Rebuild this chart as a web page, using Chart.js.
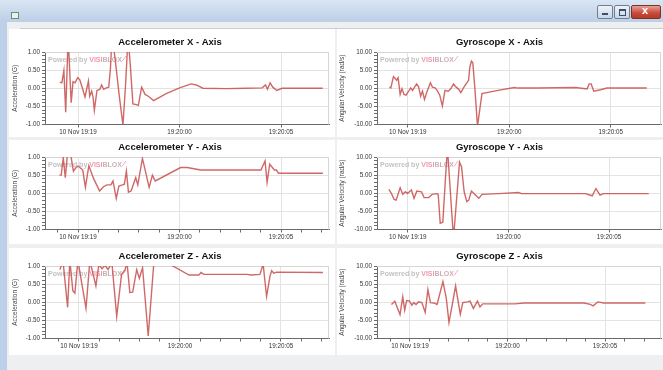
<!DOCTYPE html>
<html lang="en">
<head>
<meta charset="UTF-8">
<title>Sensor Monitor</title>
<script src="https://cdn.jsdelivr.net/npm/chart.js@4.4.0/dist/chart.umd.min.js"></script>
<style>
    html, body { margin: 0; padding: 0; }
    body {
        width: 663px; height: 370px; position: relative; overflow: hidden;
        background: #bcd1e9;
        font-family: "Liberation Sans", Arial, sans-serif;
    }
    .titlebar {
        position: absolute; left: 0; top: 0; width: 663px; height: 22px;
        background: linear-gradient(180deg, #dae6f3 0%, #c9d9ec 55%, #bccfe6 100%);
    }
    .app-icon {
        position: absolute; left: 11px; top: 12px; width: 6px; height: 5px;
        border: 1px solid #6f8a80; background: #e9f1ec;
    }
    .winbtn {
        position: absolute; top: 5px; height: 12px; border: 1px solid #6d7f96;
        border-radius: 2px; background: linear-gradient(180deg, #eef3f9, #c9d6e6);
    }
    .winbtn.min { left: 597px; width: 14px; }
    .winbtn.max { left: 614px; width: 14px; }
    .winbtn.close { left: 631px; width: 28px; border-color: #7d3128;
        background: linear-gradient(180deg, #e6a294, #c8483a 60%, #b83a2c); }
    .winbtn.min::after { content: ""; position: absolute; left: 4px; top: 7px; width: 6px; height: 2px; background: #3d4f66; }
    .winbtn.max::after { content: ""; position: absolute; left: 4px; top: 3px; width: 5px; height: 4px; border: 1px solid #3d4f66; border-top-width: 2px; }
    .winbtn.close::after { content: "x"; position: absolute; left: 10px; top: -2px; color: #fff; font: bold 11px "Liberation Sans", Arial, sans-serif; }
    .client {
        position: absolute; left: 7px; top: 22px; width: 656px; height: 348px;
        background: #eeeff1;
    }
    .topline { position: absolute; left: 20px; top: 28px; width: 643px; height: 1px; background: #c9ccd1; }
    .card { position: absolute; background: #ffffff; }
    canvas.plot { position: absolute; }
</style>
</head>
<body>

<div class="titlebar">
    <div class="app-icon"></div>
    <div class="winbtn min"></div>
    <div class="winbtn max"></div>
    <div class="winbtn close"></div>
</div>
<div class="client"></div>

<div class="card" style="left:9px; top:29px; width:326px; height:108px;"></div>
<div class="card" style="left:337px; top:29px; width:326px; height:108px;"></div>
<div class="card" style="left:9px; top:140px; width:326px; height:104px;"></div>
<div class="card" style="left:337px; top:140px; width:326px; height:104px;"></div>
<div class="card" style="left:9px; top:248px; width:326px; height:107px;"></div>
<div class="card" style="left:337px; top:248px; width:326px; height:107px;"></div>
<div class="topline"></div>

<canvas class="plot" id="accelX" width="324" height="108" style="left:11px; top:30px;"></canvas>
<canvas class="plot" id="gyroX" width="325" height="108" style="left:338px; top:30px;"></canvas>
<canvas class="plot" id="accelY" width="324" height="108" style="left:11px; top:135px;"></canvas>
<canvas class="plot" id="gyroY" width="325" height="108" style="left:338px; top:135px;"></canvas>
<canvas class="plot" id="accelZ" width="324" height="108" style="left:11px; top:244px;"></canvas>
<canvas class="plot" id="gyroZ" width="325" height="108" style="left:338px; top:244px;"></canvas>

<script>
    // time is seconds past 19:19:00 on 10 Nov
    var xMinorTicks = [54, 55, 56, 57, 58, 59, 60, 61, 62, 63, 64, 65, 66, 67];
    var xTickValues = [55, 60, 65];
    var xTickLabels = ['10 Nov 19:19', '19:20:00', '19:20:05'];

    var accelTicks = [-1, -0.5, 0, 0.5, 1];
    var gyroTicks = [-10, -5, 0, 5, 10];

    var accelXTime = [54.10, 54.20, 54.30, 54.39, 54.51, 54.66, 54.75, 54.85, 54.98, 55.08, 55.18, 55.34, 55.51, 55.57, 55.67, 55.74, 55.80, 55.93, 56.07, 56.16, 56.26, 56.39, 56.51, 56.59, 56.67, 56.82, 57.02, 57.21, 57.34, 57.46, 57.57, 57.70, 57.87, 57.97, 58.13, 58.30, 58.46, 58.72, 59.34, 60.00, 60.57, 60.82, 61.15, 62.30, 63.28, 64.07, 64.23, 64.33, 64.46, 64.59, 64.79, 65.05, 66.23, 67.05];
    var accelXValues = [0.17, 0.15, 0.49, -0.66, 1.4, -0.40, 0.18, 0.15, 0.29, 0.24, 0.06, -0.24, 0.20, -0.22, -0.08, -0.26, -0.61, -0.06, -0.03, 0.09, -0.03, 0.01, 0.03, 0.52, 1.4, 0.84, -0.17, -1.02, 0.11, 1.4, 0.66, -0.43, -0.45, -0.47, 0.03, -0.17, -0.22, -0.34, -0.15, 0.01, 0.12, 0.09, 0.0, -0.01, 0.0, 0.01, 0.09, -0.03, 0.15, 0.03, -0.06, 0.0, 0.0, 0.0];

    var gyroXTime = [54.10, 54.17, 54.30, 54.40, 54.46, 54.53, 54.63, 54.72, 54.82, 54.92, 55.05, 55.15, 55.24, 55.34, 55.44, 55.54, 55.64, 55.73, 55.83, 55.96, 56.12, 56.22, 56.35, 56.45, 56.58, 56.71, 56.84, 57.00, 57.13, 57.26, 57.39, 57.52, 57.62, 57.75, 57.88, 58.00, 58.06, 58.14, 58.21, 58.31, 58.44, 58.66, 59.45, 60.26, 60.42, 61.40, 63.27, 63.84, 63.94, 64.04, 64.17, 64.50, 64.82, 66.78];
    var gyroXValues = [0.3, 0.1, 3.2, 2.6, 2.2, 2.9, -1.7, -0.1, -1.7, -1.9, -0.8, 0.1, -0.6, 0.3, 1.2, 0.4, -2.2, -0.8, -3.1, -0.8, 1.5, 0.3, 0.1, -0.6, -1.9, -4.9, -0.6, -0.8, -0.1, 1.2, 0.3, -0.3, -1.2, 0.1, 1.2, 2.2, 5.7, 7.5, 7.0, 0.1, -10.5, -1.5, -0.6, 0.2, 0.05, 0.05, 0.2, -0.2, 1.2, 1.2, -0.8, -0.4, 0.05, 0.05];

    var accelYTime = [54.08, 54.17, 54.27, 54.37, 54.47, 54.64, 54.77, 54.90, 55.00, 55.13, 55.23, 55.36, 55.53, 55.76, 56.06, 56.25, 56.42, 56.62, 56.72, 56.88, 57.01, 57.18, 57.28, 57.38, 57.48, 57.61, 57.84, 57.94, 58.17, 58.50, 58.66, 58.80, 60.05, 60.38, 61.04, 62.19, 64.01, 64.21, 64.31, 64.44, 64.67, 64.77, 64.87, 65.66, 67.06];
    var accelYValues = [0.50, 0.50, 0.98, 0.43, 1.05, 1.05, 0.61, 0.71, 0.75, 0.69, 0.64, 0.16, 0.76, 0.41, 0.06, 0.18, 0.23, 0.23, 0.34, -0.14, 0.20, 0.23, 0.25, 0.61, 0.03, 0.06, 0.43, 0.23, 0.96, 0.16, 0.50, 0.34, 0.71, 0.71, 0.64, 0.64, 0.64, 0.89, 0.30, 0.80, 0.64, 0.64, 0.55, 0.55, 0.55];

    var gyroYTime = [54.06, 54.19, 54.32, 54.42, 54.62, 54.75, 54.88, 54.98, 55.08, 55.18, 55.31, 55.45, 55.68, 55.81, 56.04, 56.21, 56.41, 56.51, 56.61, 56.74, 56.87, 56.97, 57.27, 57.57, 57.67, 57.80, 57.93, 58.03, 58.16, 58.36, 58.53, 58.69, 59.52, 60.51, 60.65, 61.84, 63.82, 64.16, 64.35, 64.55, 64.72, 66.97];
    var gyroYValues = [1.1, -0.1, -1.7, -1.9, 1.5, -0.3, 0.4, -0.1, 0.4, 0.9, -1.4, 0.6, 0.4, -1.2, -1.2, -0.3, -0.1, -0.3, -8.3, -8.0, 4.1, 12.5, -12.5, 8.6, 7.3, 0.4, -2.3, -1.9, 0.6, -0.5, -1.4, -0.3, -0.1, 0.2, -0.1, -0.1, -0.1, -0.7, 1.3, -0.5, -0.1, -0.1];

    var accelZTime = [54.06, 54.21, 54.44, 54.55, 54.70, 54.80, 54.95, 55.35, 55.54, 55.84, 55.99, 56.14, 56.29, 56.44, 56.63, 56.87, 57.11, 57.28, 57.38, 57.52, 57.66, 57.86, 57.99, 58.15, 58.43, 58.71, 59.00, 59.65, 60.45, 60.94, 61.04, 61.19, 63.32, 63.51, 63.96, 64.12, 64.29, 64.46, 64.54, 64.65, 64.79, 67.08];
    var accelZValues = [0.9, 1.15, -0.14, 1.15, 0.31, 0.25, 1.15, -0.17, 1.15, 0.45, 1.05, 0.92, 1.02, 0.9, 1.1, -0.39, 0.77, 0.89, 1.1, 0.27, 0.28, 0.9, 0.66, 0.95, -0.93, 1.1, 1.35, 1.0, 0.75, 0.75, 0.82, 0.77, 0.77, 0.75, 0.77, 1.05, 0.16, 0.72, 0.87, 0.8, 0.83, 0.82];

    var gyroZTime = [54.05, 54.22, 54.49, 54.63, 54.73, 54.83, 54.97, 55.10, 55.20, 55.31, 55.44, 55.61, 55.78, 55.92, 56.05, 56.22, 56.39, 56.69, 56.86, 57.00, 57.17, 57.34, 57.44, 57.58, 57.71, 57.95, 58.08, 58.25, 58.46, 58.59, 58.73, 60.36, 60.86, 63.92, 64.25, 64.39, 64.63, 64.93, 67.07];
    var gyroZValues = [-0.6, 0.3, -3.4, 1.5, -2.2, 0.5, 0.4, -0.8, -0.1, -0.6, 0.1, -0.1, -2.8, 3.5, -0.1, -0.2, -0.6, 5.7, 1.2, -5.6, -0.6, 4.5, 1.2, -3.3, -0.1, 0.1, 0.3, -1.7, 0.3, -1.3, -0.45, -0.45, -0.2, -0.2, -0.6, -1.0, 0.1, -0.2, -0.2];

    var fontFamily = '"Liberation Sans", Arial, sans-serif';
    var lineColour = 'rgba(200, 78, 78, 0.85)';
    var gridColour = '#e3e3e3';
    var axisColour = '#6a6a6a';

    // "Powered by VISIBLOX" stamp in the top left of every plot
    var watermark = {
        id: 'watermark',
        beforeDatasetsDraw: function (chart) {
            var ctx = chart.ctx, area = chart.chartArea;
            var x = area.left + 3, y = area.top + 8;
            ctx.save();
            ctx.font = 'bold 7px ' + fontFamily;
            ctx.textBaseline = 'middle';
            ctx.fillStyle = '#c2c2c2';
            ctx.fillText('Powered by ', x, y);
            x += ctx.measureText('Powered by ').width;
            ctx.fillStyle = '#ee9aac';
            ctx.fillText('VISI', x, y);
            x += ctx.measureText('VISI').width;
            ctx.fillStyle = '#cdb0b6';
            ctx.fillText('BLOX', x, y);
            x += ctx.measureText('BLOX').width;
            ctx.strokeStyle = '#ee9aac';
            ctx.lineWidth = 0.8;
            ctx.beginPath();
            ctx.moveTo(x + 0.5, y + 1);
            ctx.lineTo(x + 4, y - 4);
            ctx.stroke();
            ctx.restore();
        }
    };

    // light frame on the top and right of the plot
    var plotFrame = {
        id: 'plotFrame',
        beforeDatasetsDraw: function (chart) {
            var ctx = chart.ctx, a = chart.chartArea;
            ctx.save();
            ctx.strokeStyle = '#d6d6d6';
            ctx.lineWidth = 1;
            ctx.beginPath();
            ctx.moveTo(a.left, a.top + 0.5);
            ctx.lineTo(a.right - 0.5, a.top + 0.5);
            ctx.lineTo(a.right - 0.5, a.bottom);
            ctx.stroke();
            ctx.restore();
        }
    };

    function isOneOf(list, v) {
        return list.some(function (m) { return Math.abs(m - v) < 1e-6; });
    }

    function drawChart(id, spec) {
        var points = spec.time.map(function (t, i) { return { x: t, y: spec.values[i] }; });
        var tickFont = { family: fontFamily, size: 6.3 };

        new Chart(document.getElementById(id), {
            type: 'line',
            data: {
                datasets: [{
                    data: points,
                    borderColor: lineColour,
                    borderWidth: 1.4,
                    pointRadius: 0,
                    tension: 0,
                    fill: false
                }]
            },
            options: {
                responsive: false,
                animation: false,
                layout: { padding: { left: 0, right: spec.padRight, top: 0, bottom: 0 } },
                plugins: {
                    legend: { display: false },
                    tooltip: { enabled: false },
                    title: {
                        display: true,
                        text: spec.title,
                        color: '#111',
                        font: { family: fontFamily, size: 9.5, weight: 'bold' },
                        padding: { top: 6.5, bottom: 4.1 }
                    }
                },
                scales: {
                    x: {
                        type: 'linear',
                        min: spec.xMin,
                        max: spec.xMax,
                        afterBuildTicks: function (s) {
                            s.ticks = xMinorTicks.map(function (v) { return { value: v }; });
                        },
                        afterFit: function (s) { s.height = 13.5; },
                        ticks: {
                            autoSkip: false,
                            maxRotation: 0,
                            padding: 1,
                            color: '#333',
                            font: tickFont,
                            callback: function (v) {
                                var i = xTickValues.indexOf(v);
                                return i < 0 ? '' : xTickLabels[i];
                            }
                        },
                        grid: {
                            tickLength: 3,
                            color: function (c) {
                                return c.tick && isOneOf(xTickValues, c.tick.value) ? gridColour : 'rgba(0,0,0,0)';
                            },
                            tickColor: function (c) {
                                var major = c.tick && isOneOf(xTickValues, c.tick.value);
                                return (major || spec.minorX) ? axisColour : 'rgba(0,0,0,0)';
                            }
                        },
                        border: { color: axisColour }
                    },
                    y: {
                        min: spec.yTicks[0],
                        max: spec.yTicks[spec.yTicks.length - 1],
                        afterFit: function (s) { s.width = spec.yWidth; },
                        ticks: {
                            stepSize: spec.yStep,
                            autoSkip: false,
                            padding: 2,
                            color: '#333',
                            font: tickFont,
                            callback: function (v) {
                                return isOneOf(spec.yTicks, v) ? v.toFixed(2) : '';
                            }
                        },
                        title: {
                            display: true,
                            text: spec.yTitle,
                            color: '#444',
                            font: { family: fontFamily, size: 6.5 },
                            padding: 0
                        },
                        grid: {
                            tickLength: 3,
                            tickColor: axisColour,
                            color: function (c) {
                                return c.tick && isOneOf(spec.yTicks, c.tick.value) ? gridColour : 'rgba(0,0,0,0)';
                            }
                        },
                        border: { color: axisColour }
                    }
                }
            },
            plugins: [plotFrame, watermark]
        });
    }

    var accelTitle = 'Acceleration (G)';
    var gyroTitle = 'Angular Velocity (rad/s)';

    drawChart('accelX', { title: 'Accelerometer X - Axis', yTitle: accelTitle, time: accelXTime, values: accelXValues,
        yTicks: accelTicks, yStep: 0.1, xMin: 53.37, xMax: 67.36, yWidth: 34, padRight: 6, minorX: false });
    drawChart('gyroX', { title: 'Gyroscope X - Axis', yTitle: gyroTitle, time: gyroXTime, values: gyroXValues,
        yTicks: gyroTicks, yStep: 1, xMin: 53.49, xMax: 67.48, yWidth: 39, padRight: 2, minorX: false });
    drawChart('accelY', { title: 'Accelerometer Y - Axis', yTitle: accelTitle, time: accelYTime, values: accelYValues,
        yTicks: accelTicks, yStep: 0.1, xMin: 53.37, xMax: 67.36, yWidth: 34, padRight: 6, minorX: true });
    drawChart('gyroY', { title: 'Gyroscope Y - Axis', yTitle: gyroTitle, time: gyroYTime, values: gyroYValues,
        yTicks: gyroTicks, yStep: 1, xMin: 53.47, xMax: 67.58, yWidth: 39, padRight: 2, minorX: false });
    drawChart('accelZ', { title: 'Accelerometer Z - Axis', yTitle: accelTitle, time: accelZTime, values: accelZValues,
        yTicks: accelTicks, yStep: 0.1, xMin: 53.32, xMax: 67.38, yWidth: 34, padRight: 6, minorX: true });
    drawChart('gyroZ', { title: 'Gyroscope Z - Axis', yTitle: gyroTitle, time: gyroZTime, values: gyroZValues,
        yTicks: gyroTicks, yStep: 1, xMin: 53.31, xMax: 67.87, yWidth: 39, padRight: 2, minorX: true });
</script>
</body>
</html>
